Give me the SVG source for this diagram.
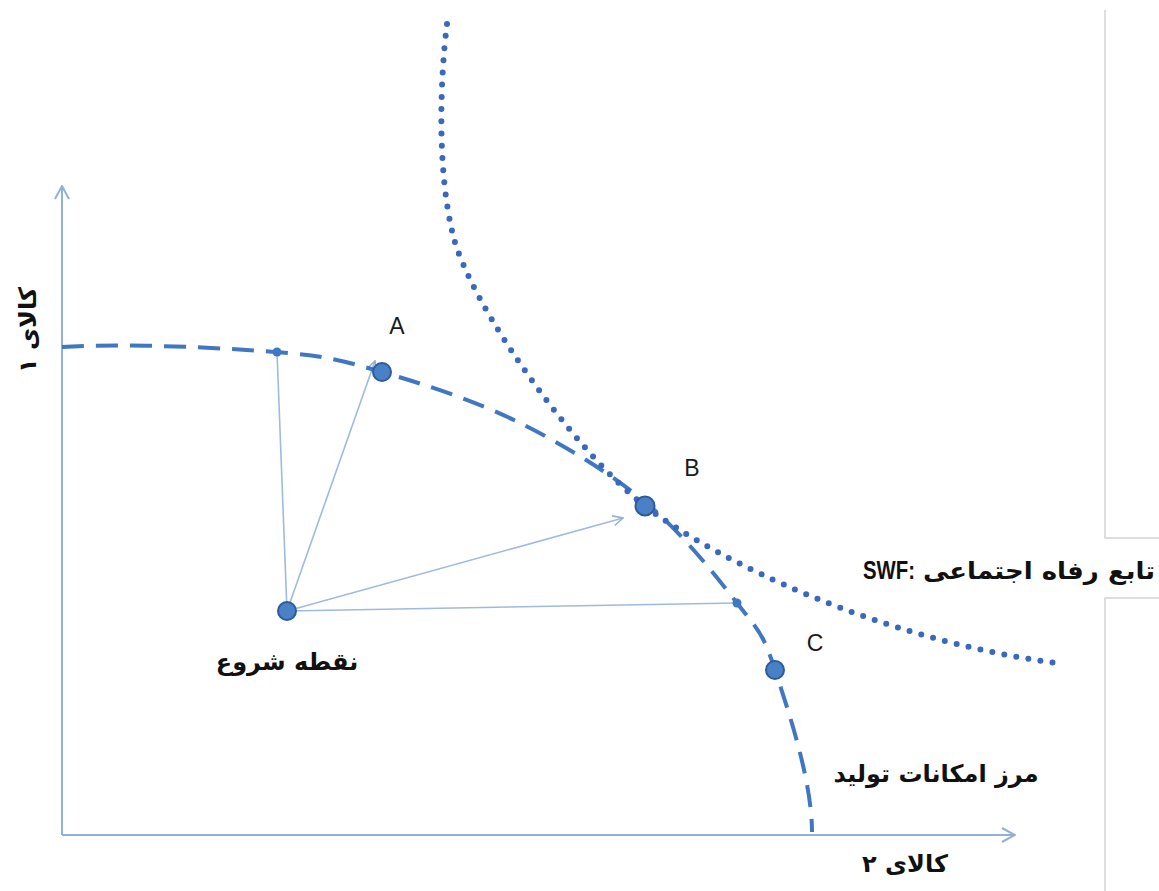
<svg xmlns="http://www.w3.org/2000/svg" width="1159" height="891" viewBox="0 0 1159 891">
<defs>
<marker id="vopen" viewBox="0 0 12 12" refX="11" refY="6" markerWidth="12" markerHeight="12" markerUnits="userSpaceOnUse" orient="auto">
<path d="M1,1 L11,6 L1,11" fill="none" stroke="#93b1d8" stroke-width="1.6"/>
</marker>
<marker id="vaxis" viewBox="0 0 16 16" refX="15" refY="8" markerWidth="16" markerHeight="16" markerUnits="userSpaceOnUse" orient="auto">
<path d="M2,1 L15,8 L2,15" fill="none" stroke="#93b1d8" stroke-width="2"/>
</marker>
</defs>
<style>
.axis{stroke:#93b1d8;stroke-width:2;fill:none}
.link{stroke:#9fbadf;stroke-width:1.6;fill:none}
.ppf{stroke:#3f77c0;stroke-width:4;fill:none;stroke-dasharray:22 12}
.swf{stroke:#3a68bf;stroke-width:6;fill:none;stroke-dasharray:0 12.2;stroke-linecap:round}
.pt{fill:#4a80c6;stroke:#2c5c9c;stroke-width:2}
.dot{fill:#3f77c0}
.lat{font-family:"Liberation Sans",Arial,sans-serif;font-size:23px;fill:#1a1a1a}
.fa{font-family:"DejaVu Sans",sans-serif;font-weight:bold;font-size:24px;fill:#111}
.frame{stroke:#d4d4d4;stroke-width:1.5;fill:none}
</style>
<rect width="1159" height="891" fill="#ffffff"/>
<g id="frame">
<path class="frame" d="M1105,10 L1105,538 L1159,538"/>
<path class="frame" d="M1159,598 L1105,598 L1105,891"/>
</g>
<g id="connectors">
<line class="axis" x1="62" y1="835" x2="62" y2="186" marker-end="url(#vaxis)"/>
<line class="axis" x1="62" y1="835" x2="1015" y2="835" marker-end="url(#vaxis)"/>
<line class="link" x1="287" y1="611" x2="277" y2="352"/>
<line class="link" x1="287" y1="611" x2="375" y2="361" marker-end="url(#vopen)"/>
<line class="link" x1="287" y1="611" x2="623" y2="518" marker-end="url(#vopen)"/>
<line class="link" x1="287" y1="611" x2="737" y2="603"/>
</g>
<g id="ppf">
<path class="ppf" d="M62,347 C130,343 221.7,347.8 275,352 C328.3,356.2 341.5,360.3 382,372 C422.5,383.7 474.2,400.3 518,422 C561.8,443.7 608.5,471.8 645,502 C681.5,532.2 715.3,575 737,603 C758.7,631 762.5,631.8 775,670 C787.5,708.2 812,780 812,832"/>
</g>
<g id="swf">
<path class="swf" d="M447,24 C440,80 437,170 453,235 C470,305 575,452 645,506 C715,560 880,640 1057,663"/>
</g>
<g id="node-start">
<circle class="dot" cx="277" cy="352" r="4.5"/>
<circle class="dot" cx="737" cy="603" r="4.5"/>
<circle class="pt" cx="287" cy="611" r="9"/>
<text class="fa" x="287" y="670" text-anchor="middle">نقطه شروع</text>
</g>
<g id="node-A">
<circle class="pt" cx="382" cy="372" r="9"/>
<text class="lat" x="397" y="334" text-anchor="middle">A</text>
</g>
<g id="node-B">
<circle class="pt" cx="645" cy="506" r="9.5"/>
<text class="lat" x="692" y="476" text-anchor="middle">B</text>
</g>
<g id="node-C">
<circle class="pt" cx="775" cy="670" r="9"/>
<text class="lat" x="815" y="651" text-anchor="middle">C</text>
</g>
<g id="labels">
<text x="863" y="579" font-family="'Liberation Sans',Arial,sans-serif" font-weight="bold" font-size="26" fill="#111" textLength="52" lengthAdjust="spacingAndGlyphs">SWF:</text>
<text class="fa" x="1155" y="579" text-anchor="end" textLength="232" lengthAdjust="spacingAndGlyphs">تابع رفاه اجتماعی</text>
<text class="fa" x="936" y="782" text-anchor="middle" font-size="25">مرز امکانات تولید</text>
<text class="fa" x="905" y="872" text-anchor="middle" font-size="26">کالای ۲</text>
<text class="fa" transform="translate(36,330) rotate(-90)" text-anchor="middle" font-size="24">کالای ۱</text>
</g>
</svg>
